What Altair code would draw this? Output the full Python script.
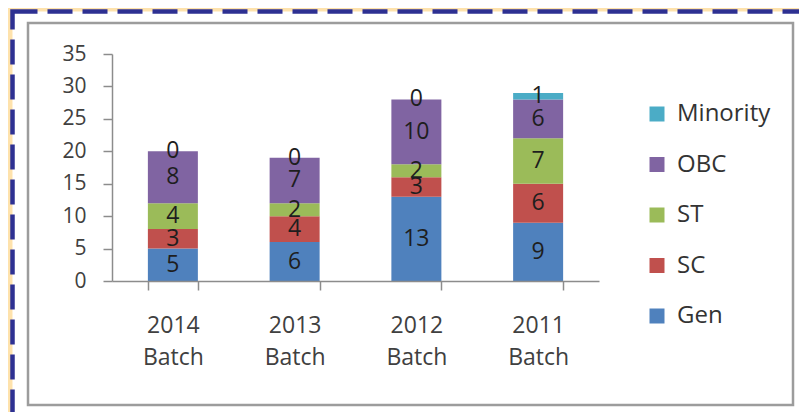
import altair as alt
import pandas as pd

batches = ["2014 Batch", "2013 Batch", "2012 Batch", "2011 Batch"]
groups = ["Gen", "SC", "ST", "OBC", "Minority"]
gen = [5, 6, 13, 9]
sc = [3, 4, 3, 6]
st = [4, 2, 2, 7]
obc = [8, 7, 10, 6]
minority = [0, 0, 0, 1]
colors = ["#4F81BD", "#C0504D", "#9BBB59", "#8064A2", "#4BACC6"]
y_ticks = [0, 5, 10, 15, 20, 25, 30, 35]

series = {"Gen": gen, "SC": sc, "ST": st, "OBC": obc, "Minority": minority}
rows = []
for i, b in enumerate(batches):
    base = 0
    for k, g in enumerate(groups):
        v = series[g][i]
        rows.append({"batch": b, "group": g, "order": k, "value": v,
                     "y0": base, "y1": base + v, "mid": base + v / 2})
        base += v
df = pd.DataFrame(rows)

FONT = "Open Sans"

frame_data = alt.Data(values=[{"f": 1}])
dashed = alt.Chart(frame_data).mark_rect(
    fill="white", stroke="#2E3192", strokeWidth=4.5, strokeDash=[25, 10]
).encode(x=alt.value(-99.5), x2=alt.value(691), y=alt.value(-42.5), y2=alt.value(366))

inner = alt.Chart(frame_data).mark_rect(
    fill="white", stroke="#9C9C9C", strokeWidth=2.5
).encode(x=alt.value(-84), x2=alt.value(681), y=alt.value(-31), y2=alt.value(351))

xaxis = alt.Axis(labelAngle=0, labelExpr="split(datum.label, ' ')",
                 labelFont=FONT, labelFontSize=23, labelColor="#404040",
                 labelLineHeight=32, labelPadding=24,
                 tickBand="extent", tickSize=9, tickColor="#8C8C8C",
                 domainColor="#8C8C8C", domainWidth=1.5, tickWidth=1.5,
                 zindex=1)
yaxis = alt.Axis(values=y_ticks, grid=False, labelOverlap=False,
                 labelFont=FONT, labelFontSize=21, labelColor="#404040",
                 labelPadding=17, tickSize=9, tickColor="#8C8C8C",
                 domainColor="#8C8C8C", domainWidth=1.5, tickWidth=1.5,
                 zindex=1)
xscale = alt.Scale(paddingInner=0.59, paddingOuter=0.295)
yscale = alt.Scale(domain=[0, 35], nice=False)

bars = alt.Chart(df).mark_bar(size=50).encode(
    x=alt.X("batch:N", sort=batches, title=None, scale=xscale, axis=xaxis),
    y=alt.Y("y0:Q", title=None, scale=yscale, axis=yaxis),
    y2="y1:Q",
    color=alt.Color("group:N", sort=groups,
                    scale=alt.Scale(domain=groups, range=colors),
                    legend=alt.Legend(title=None, orient="none", legendX=533, legendY=48,
                                      values=groups[::-1], symbolType="square",
                                      symbolSize=225, symbolStrokeWidth=0,
                                      labelFont=FONT, labelFontSize=24,
                                      labelColor="#333333", labelOffset=8,
                                      rowPadding=26.5, padding=0, zindex=1)),
)

labels = alt.Chart(df).mark_text(font=FONT, fontSize=23, color="#1E1E1E").encode(
    x=alt.X("batch:N", sort=batches, title=None, scale=xscale, axis=xaxis),
    y=alt.Y("mid:Q", title=None, scale=yscale, axis=yaxis),
    text="value:Q",
)

chart = alt.layer(dashed, inner, bars, labels).properties(
    width=487, height=227,
    padding={"left": 104, "top": 46, "right": 200, "bottom": 131},
    autosize=alt.AutoSizeParams(type="none"),
    background="#FEE2AC",
).configure_view(strokeWidth=0)

chart.save("out.html", embed_options={"renderer": "svg", "actions": False})
